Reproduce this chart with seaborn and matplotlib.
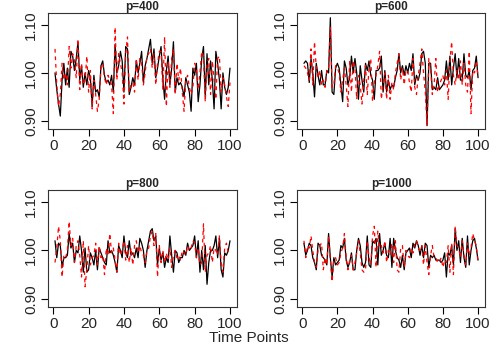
import numpy as np
import pandas as pd
import matplotlib
matplotlib.use('Agg')
import matplotlib.pyplot as plt
import seaborn as sns

# values (ratio per time point)
titles = ['p=400', 'p=600', 'p=800', 'p=1000']

black_400 = [1.00, 0.965, 0.935, 0.91, 0.985, 1.02, 0.975, 1.01, 0.97, 1.045,
             1.035, 1.005, 1.03, 1.065, 0.985, 1.015, 0.97, 1.00, 0.975, 1.005,
             0.99, 0.93, 0.995, 0.96, 0.965, 0.95, 1.015, 1.025, 0.995, 0.98,
             0.985, 0.975, 0.995, 0.96, 1.06, 1.00, 1.015, 1.045, 1.025, 0.96,
             1.055, 1.05, 0.955, 0.97, 0.99, 0.975, 1.025, 1.00, 1.02, 1.045,
             0.98, 1.015, 1.03, 1.05, 1.07, 1.02, 1.05, 0.99, 1.01, 1.035,
             1.055, 0.99, 0.945, 1.005, 1.035, 0.975, 1.01, 1.065, 0.96, 0.99,
             0.975, 0.98, 0.97, 0.95, 0.99, 0.975, 0.96, 0.92, 1.01, 0.995,
             1.02, 0.94, 0.975, 1.03, 1.055, 0.95, 1.04, 0.975, 1.025, 0.985,
             0.925, 1.045, 1.02, 0.985, 0.925, 1.00, 0.97, 0.955, 0.97, 1.01]
red_400 = [1.05, 0.975, 0.93, 0.955, 1.02, 0.985, 1.00, 0.975, 1.055, 1.01,
           1.04, 1.025, 0.99, 1.07, 0.965, 1.02, 0.975, 0.985, 1.035, 0.96,
           1.005, 0.925, 0.985, 0.955, 0.92, 0.945, 1.01, 1.02, 0.99, 0.975,
           0.995, 0.985, 0.975, 0.915, 1.095, 0.985, 1.04, 1.02, 1.00, 0.935,
           1.04, 1.075, 0.96, 0.975, 0.98, 0.96, 1.03, 0.985, 1.03, 1.02,
           0.975, 1.00, 1.035, 1.04, 1.05, 1.01, 1.04, 0.975, 1.02, 1.045,
           1.045, 0.965, 1.075, 0.93, 1.025, 0.97, 1.03, 1.05, 0.955, 1.02,
           0.985, 1.01, 0.96, 0.92, 0.985, 0.995, 0.97, 0.955, 0.97, 1.02,
           1.01, 0.965, 1.00, 1.045, 1.035, 0.94, 1.02, 1.03, 0.955, 1.025,
           0.985, 0.945, 1.03, 1.035, 0.96, 0.99, 0.975, 0.95, 0.93, 0.98]

black_600 = [1.02, 1.025, 1.02, 0.98, 1.03, 1.00, 0.95, 1.02, 0.995, 0.975,
             1.005, 0.975, 0.975, 1.005, 1.00, 1.115, 0.96, 0.955, 1.01, 1.02,
             1.01, 0.975, 0.94, 1.025, 1.01, 0.975, 0.99, 1.035, 1.00, 1.03,
             1.00, 0.945, 1.015, 0.985, 0.96, 1.02, 1.005, 1.025, 0.995, 0.985,
             0.945, 1.005, 1.005, 1.01, 1.035, 0.96, 1.005, 0.96, 0.985, 0.965,
             0.975, 0.97, 0.99, 1.005, 1.04, 1.00, 1.015, 0.995, 1.015, 1.00,
             1.02, 1.005, 1.04, 0.975, 0.995, 0.985, 1.00, 1.04, 1.045, 1.02,
             0.89, 1.02, 1.02, 0.965, 0.97, 0.965, 0.99, 0.965, 0.97, 0.975,
             0.985, 1.025, 0.985, 1.035, 0.975, 1.01, 1.04, 0.99, 1.03, 0.985,
             0.985, 1.04, 0.995, 0.99, 1.005, 0.965, 1.005, 1.01, 1.035, 0.99]
red_600 = [1.015, 1.01, 1.00, 0.985, 1.05, 0.975, 1.065, 1.01, 0.99, 1.005,
           0.975, 0.985, 0.97, 1.005, 1.005, 1.095, 0.97, 0.975, 1.015, 1.01,
           1.00, 0.96, 0.985, 1.01, 0.975, 0.93, 1.025, 0.96, 1.025, 1.01,
           0.945, 0.995, 0.975, 0.935, 0.985, 1.015, 0.955, 1.01, 1.03, 0.94,
           0.98, 0.995, 1.015, 1.045, 0.945, 0.975, 1.00, 0.945, 0.995, 0.945,
           0.98, 0.965, 1.00, 1.02, 1.04, 0.985, 1.01, 0.975, 1.005, 1.005,
           0.98, 0.96, 1.03, 0.97, 0.955, 0.995, 1.02, 1.05, 1.00, 0.96,
           0.89, 1.03, 1.01, 0.955, 0.975, 1.03, 0.96, 0.975, 0.985, 0.995,
           0.975, 1.005, 0.945, 1.025, 1.065, 0.995, 0.975, 1.005, 0.985, 1.025,
           0.975, 1.02, 0.975, 0.96, 1.045, 0.915, 1.005, 1.00, 1.025, 0.99]

black_800 = [1.02, 0.985, 1.015, 1.01, 0.965, 0.985, 0.985, 0.99, 1.035, 1.005,
             1.015, 0.975, 1.00, 0.995, 1.03, 1.00, 0.955, 1.005, 0.955, 0.96,
             0.995, 0.985, 0.97, 1.00, 0.96, 1.005, 0.995, 0.985, 0.975, 0.97,
             1.02, 0.995, 1.00, 0.99, 0.975, 0.955, 1.01, 1.00, 0.985, 1.03,
             0.995, 0.985, 1.02, 0.99, 0.995, 0.985, 1.005, 0.985, 1.025, 1.015,
             1.00, 0.965, 1.00, 1.02, 1.04, 1.045, 1.02, 1.03, 0.97, 1.005,
             0.98, 0.995, 0.965, 0.985, 0.975, 1.03, 0.99, 0.955, 1.00, 0.995,
             0.975, 0.985, 0.985, 1.00, 0.99, 1.015, 1.00, 1.005, 1.01, 1.03,
             0.985, 1.02, 0.955, 1.00, 0.96, 1.01, 0.93, 0.975, 1.00, 1.00,
             1.01, 1.03, 0.985, 1.025, 0.96, 0.945, 0.995, 0.99, 1.00, 1.02]
red_800 = [0.975, 1.005, 1.05, 1.02, 0.945, 0.99, 0.985, 1.00, 1.06, 1.01,
           1.025, 0.975, 1.01, 1.02, 0.99, 0.945, 1.02, 0.925, 0.96, 1.01,
           0.97, 0.985, 0.99, 1.015, 0.97, 1.01, 0.985, 0.99, 0.95, 1.005,
           0.99, 1.035, 0.995, 1.005, 0.98, 0.955, 1.015, 0.99, 1.00, 1.02,
           0.98, 1.01, 0.975, 1.005, 0.97, 1.01, 1.02, 0.995, 1.01, 0.995,
           0.99, 0.975, 1.00, 1.005, 1.03, 1.04, 1.01, 1.035, 0.945, 1.01,
           0.975, 1.00, 0.975, 0.995, 0.98, 1.005, 0.965, 0.99, 1.00, 0.985,
           0.99, 0.98, 1.00, 0.995, 0.99, 1.01, 1.00, 1.005, 1.02, 1.015,
           0.985, 1.005, 0.97, 0.975, 1.055, 0.955, 0.99, 0.995, 1.01, 0.975,
           1.005, 1.00, 0.99, 1.03, 0.975, 0.955, 1.005, 1.015, 0.995, 1.00]

black_1000 = [1.015, 0.99, 1.00, 1.015, 1.01, 0.985, 0.975, 0.96, 1.015, 1.01,
              0.99, 0.985, 0.98, 0.97, 1.035, 0.985, 0.945, 0.985, 0.97, 0.975,
              0.98, 1.01, 1.005, 1.025, 0.98, 0.965, 0.975, 0.995, 0.96, 0.96,
              1.00, 1.025, 1.01, 0.975, 0.965, 0.975, 1.03, 0.97, 0.965, 1.02,
              1.015, 1.025, 0.97, 1.035, 0.99, 1.00, 1.015, 0.99, 0.985, 1.025,
              0.965, 1.025, 1.00, 0.985, 0.98, 0.965, 0.99, 0.96, 0.995, 1.00,
              1.005, 0.985, 1.015, 1.005, 1.02, 1.01, 0.99, 1.01, 0.985, 1.015,
              1.01, 0.965, 0.99, 0.985, 0.99, 0.98, 0.98, 0.98, 0.975, 0.98,
              0.995, 0.945, 0.995, 0.99, 1.01, 0.97, 1.045, 1.00, 1.02, 0.975,
              1.025, 0.985, 0.965, 1.03, 0.97, 1.00, 1.02, 1.025, 1.005, 0.98]
red_1000 = [1.02, 0.985, 1.01, 1.005, 1.03, 1.00, 0.975, 0.965, 1.00, 1.01,
            1.015, 0.96, 0.985, 0.97, 1.03, 0.98, 0.935, 0.98, 0.985, 0.97,
            0.975, 0.995, 1.005, 1.035, 0.985, 0.96, 0.98, 0.99, 0.96, 0.975,
            0.995, 1.02, 0.995, 0.96, 0.955, 0.96, 1.02, 0.985, 0.97, 1.03,
            1.05, 0.965, 1.04, 1.005, 1.01, 0.995, 1.02, 0.975, 1.00, 0.99,
            1.015, 0.975, 1.02, 0.96, 0.955, 1.005, 1.01, 0.965, 1.00, 0.99,
            0.985, 1.005, 0.995, 1.015, 1.02, 1.005, 1.00, 1.01, 0.97, 1.01,
            0.975, 0.95, 0.99, 1.01, 0.985, 0.985, 0.975, 0.975, 0.985, 0.965,
            0.98, 0.975, 1.01, 0.955, 1.015, 0.95, 1.05, 1.01, 1.005, 0.985,
            1.02, 0.99, 0.97, 1.015, 0.99, 1.005, 1.035, 1.02, 1.01, 0.975]

black_series = [black_400, black_600, black_800, black_1000]
red_series = [red_400, red_600, red_800, red_1000]

sns.set_style('ticks')
plt.rcParams['font.family'] = ['Liberation Sans', 'DejaVu Sans']

fig = plt.figure(figsize=(4.98, 3.56), dpi=100)
# panel rectangles in figure fractions (left, bottom, width, height)
rects = [(0.0964, 0.6376, 0.3795, 0.326), (0.5964, 0.6376, 0.3775, 0.326),
         (0.0964, 0.1376, 0.3795, 0.3287), (0.5964, 0.1376, 0.3775, 0.3287)]

for rect, title, blk, red in zip(rects, titles, black_series, red_series):
    ax = fig.add_axes(rect)
    df_b = pd.DataFrame({'t': np.arange(1, len(blk) + 1), 'v': blk})
    df_r = pd.DataFrame({'t': np.arange(1, len(red) + 1), 'v': red})
    sns.lineplot(data=df_b, x='t', y='v', ax=ax, color='black', lw=0.9)
    sns.lineplot(data=df_r, x='t', y='v', ax=ax, color='red', lw=0.9,
                 linestyle=(0, (3, 3)))
    ax.set_xlim(-2.96, 103.96)
    ax.set_ylim(0.883, 1.125)
    ax.set_xticks([0, 20, 40, 60, 80, 100])
    ax.set_yticks([0.90, 1.00, 1.10])
    ax.set_yticklabels(['0.90', '1.00', '1.10'], rotation=90, va='center')
    ax.tick_params(direction='out', length=5, width=0.8, labelsize=11,
                   color='black', pad=2)
    ax.set_xlabel('')
    ax.set_ylabel('')
    for s in ax.spines.values():
        s.set_visible(True)
        s.set_color('#333333')
        s.set_linewidth(0.8)
    ax.set_title(title, fontsize=8.5, fontweight='bold', pad=1.5)

fig.text(0.5, 0.05, 'Time Points', ha='center', va='center', fontsize=11)

fig.savefig('out.png', dpi=100)
